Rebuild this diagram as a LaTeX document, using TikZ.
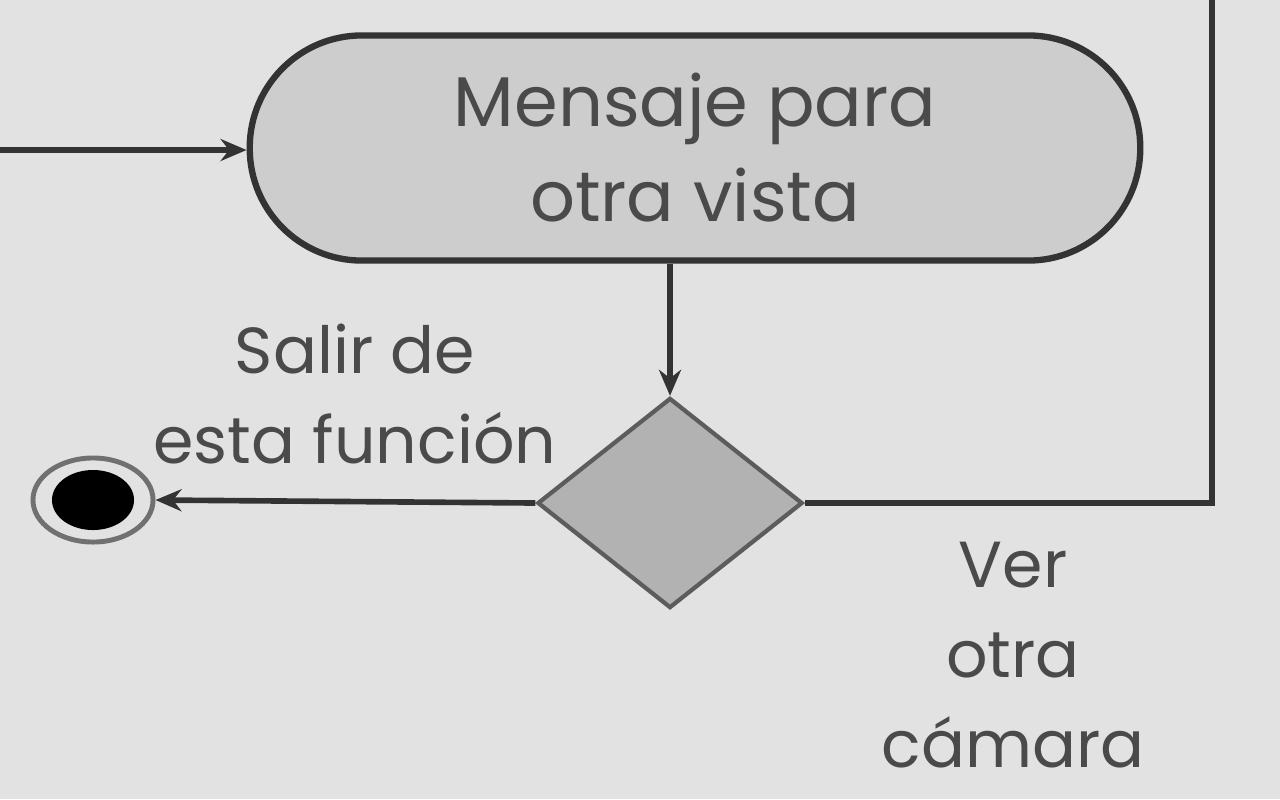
\documentclass[tikz,border=0pt]{standalone}
\usepackage{fontspec}
\setmainfont{Poppins}
\usetikzlibrary{shapes.geometric,arrows.meta}
\definecolor{bg}{HTML}{E2E2E2}
\definecolor{ln}{HTML}{333333}
\definecolor{txt}{HTML}{4A4A4A}
\definecolor{actfill}{HTML}{CDCDCD}
\definecolor{decfill}{HTML}{B2B2B2}
\tikzset{
  conn/.style={draw=ln, line width=1.6pt},
  arr/.style={conn, -{Stealth[length=2.6mm,width=2.2mm]}},
  action/.style={draw=ln, line width=1.8pt, fill=actfill, rounded corners=1.12cm,
    minimum width=8.9cm, minimum height=2.25cm, align=center, text=txt,
    font=\fontsize{20}{27}\selectfont},
  decision/.style={diamond, draw=ln!80, line width=1.2pt, fill=decfill, inner sep=0pt,
    minimum width=2.65cm, minimum height=2.1cm},
  label/.style={align=center, text=txt, font=\fontsize{18.5}{25.5}\selectfont},
}
\begin{document}
\begin{tikzpicture}[x=0.01cm,y=-0.01cm]
\useasboundingbox[fill=bg] (0,0) rectangle (1280,799);
\node[action] (msg) at (695,148) {Mensaje para\\otra vista};
\node[decision] (dec) at (670,503) {};
\node[ellipse, draw=ln!70, line width=1.4pt, fill=bg, minimum width=1.2cm, minimum height=0.84cm, inner sep=0pt] (final) at (93,500) {};
\node[ellipse, fill=black, minimum width=0.82cm, minimum height=0.6cm, inner sep=0pt] (finalin) at (93,500) {};
\coordinate (in) at (0,150);
\coordinate (up) at (1212,0);
\draw[arr] (in) -- (msg.west |- in);
\draw[arr] (dec.north |- msg.south) -- (dec.north);
\draw[arr] (dec.west) -- (final.east);
\draw[conn] (dec.east) -| (up);
\node[label] (salir) at (355,394) {Salir de\\esta función};
\node[label] (ver) at (1013,655) {Ver\\otra\\cámara};
\end{tikzpicture}
\end{document}
